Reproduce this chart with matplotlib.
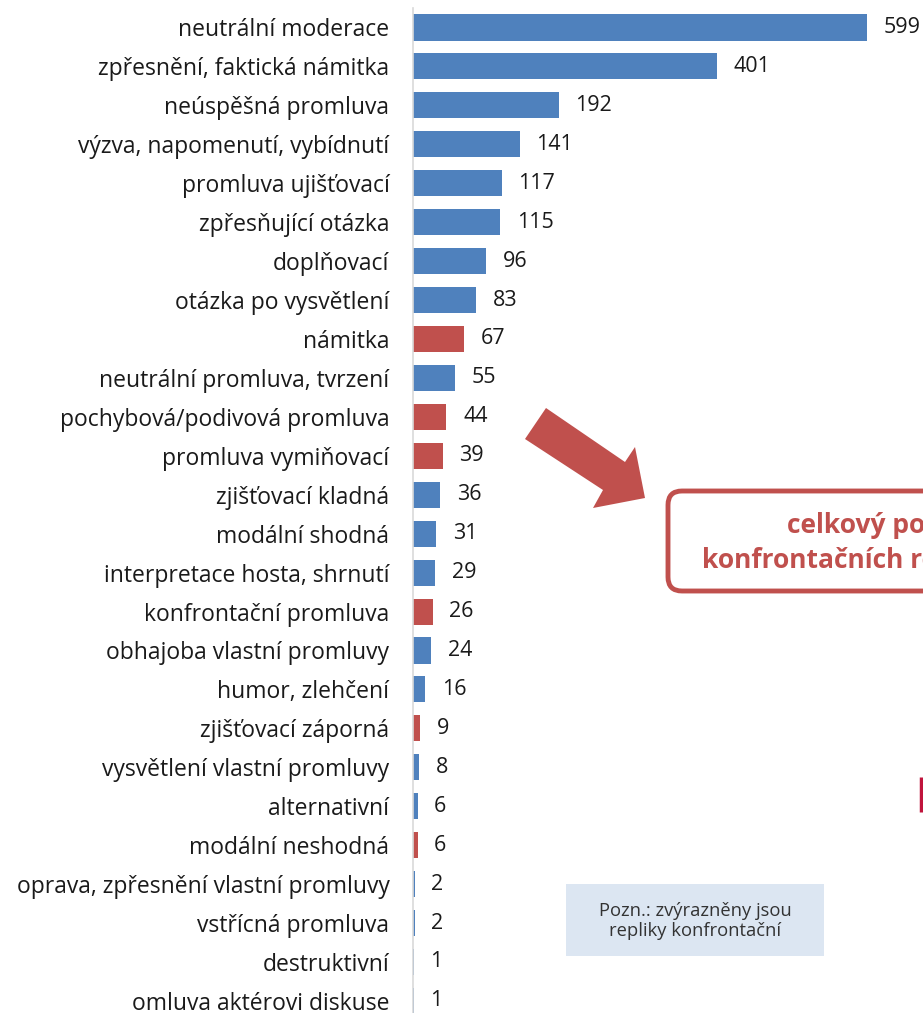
import matplotlib
matplotlib.use("Agg")
import matplotlib.pyplot as plt
from matplotlib.patches import FancyBboxPatch, Polygon, Rectangle

plt.rcParams['font.family'] = ['Open Sans', 'DejaVu Sans']

categories = [
    "neutrální moderace", "zpřesnění, faktická námitka", "neúspěšná promluva",
    "výzva, napomenutí, vybídnutí", "promluva ujišťovací", "zpřesňující otázka",
    "doplňovací", "otázka po vysvětlení", "námitka", "neutrální promluva, tvrzení",
    "pochybová/podivová promluva", "promluva vymiňovací", "zjišťovací kladná",
    "modální shodná", "interpretace hosta, shrnutí", "konfrontační promluva",
    "obhajoba vlastní promluvy", "humor, zlehčení", "zjišťovací záporná",
    "vysvětlení vlastní promluvy", "alternativní", "modální neshodná",
    "oprava, zpřesnění vlastní promluvy", "vstřícná promluva", "destruktivní",
    "omluva aktérovi diskuse",
]
values = [599, 401, 192, 141, 117, 115, 96, 83, 67, 55, 44, 39, 36, 31, 29, 26,
          24, 16, 9, 8, 6, 6, 2, 2, 1, 1]
# konfrontační repliky jsou zvýrazněny červeně
confrontational = [False, False, False, False, False, False, False, False, True,
                   False, True, True, False, False, False, True, False, False,
                   True, False, False, True, False, False, False, False]

BLUE = '#4F81BD'
RED = '#C0504D'

W, H = 923, 1013
fig = plt.figure(figsize=(W / 100, H / 100), dpi=100)

# main bar axes (left edge at 413 px, top at 8 px)
ax = fig.add_axes([413 / W, 0, 1 - 413 / W, (H - 8) / H])
colors = [RED if c else BLUE for c in confrontational]
y = list(range(len(categories)))
ax.barh(y, values, height=0.67, color=colors)
ax.set_xlim(0, 510 / 0.758)
ax.set_ylim(25.31, -0.5)
ax.set_yticks(y)
ax.set_yticklabels(categories, fontsize=16.5, color='#1a1a1a')
ax.tick_params(axis='y', length=0, pad=17)
ax.set_xticks([])
for s in ['top', 'right', 'bottom']:
    ax.spines[s].set_visible(False)
ax.spines['left'].set_color('#D9D9D9')
ax.spines['left'].set_linewidth(1.2)

for yi, v in zip(y, values):
    ax.annotate(str(v), (v, yi), xytext=(12, 0), textcoords='offset points',
                va='center', ha='left', fontsize=15.5, color='#1a1a1a')

# overlay in pixel coordinates for the shapes
ov = fig.add_axes([0, 0, 1, 1], zorder=5)
ov.set_xlim(0, W)
ov.set_ylim(H, 0)
ov.axis('off')
ov.patch.set_alpha(0)

arrow = Polygon([(546, 408), (625, 462), (635, 447), (645, 498),
                 (593, 508), (603, 490), (525, 439)], closed=True, color=RED, lw=0)
ov.add_patch(arrow)

box = FancyBboxPatch((668, 491), 300, 100, boxstyle="round,pad=0,rounding_size=14",
                     facecolor='white', edgecolor=RED, linewidth=3.5)
ov.add_patch(box)
ov.text(787, 525, "celkový počet", fontsize=19, fontweight='bold', color=RED,
        ha='left', va='center')
ov.text(702, 560, "konfrontačních replik", fontsize=19, fontweight='bold', color=RED,
        ha='left', va='center')

note = Rectangle((566, 884), 258, 72, facecolor='#DCE6F2', edgecolor='none')
ov.add_patch(note)
ov.text(695, 921, "Pozn.: zvýrazněny jsou\nrepliky konfrontační", fontsize=13.2,
        color='#333333', ha='center', va='center', linespacing=1.2)

ov.plot([921, 921], [777, 812], color='#C0143C', lw=2.5, solid_capstyle='butt')

fig.savefig('out.png', dpi=100)
